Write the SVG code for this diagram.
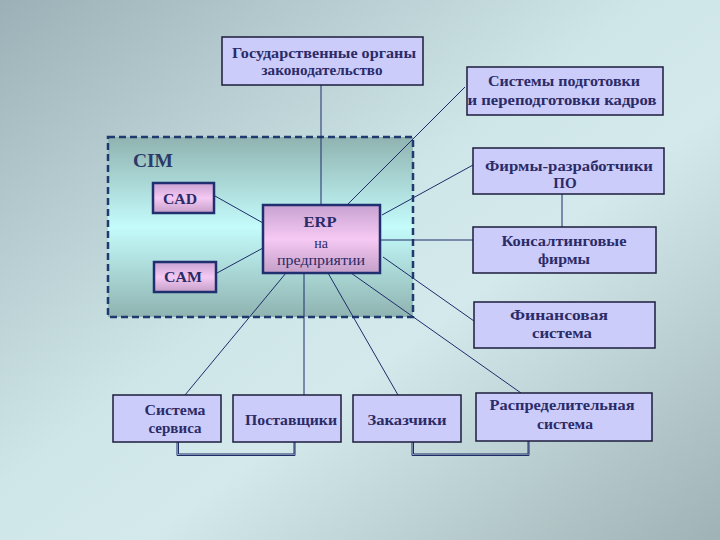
<svg xmlns="http://www.w3.org/2000/svg" width="720" height="540" viewBox="0 0 720 540">
<defs>
<linearGradient id="bg" x1="0" y1="0" x2="1" y2="1">
<stop offset="0" stop-color="#9cb1b7"/>
<stop offset="0.45" stop-color="#cfe6e8"/>
<stop offset="0.6" stop-color="#d3e9eb"/>
<stop offset="1" stop-color="#9fb2b5"/>
</linearGradient>
<linearGradient id="cim" x1="0" y1="0" x2="0" y2="1">
<stop offset="0" stop-color="#8fb3b0"/>
<stop offset="0.5" stop-color="#c4fbfb"/>
<stop offset="1" stop-color="#8fb3b0"/>
</linearGradient>
<linearGradient id="pink" x1="0" y1="0" x2="0" y2="1">
<stop offset="0" stop-color="#c8a2d2"/>
<stop offset="0.5" stop-color="#f5c9f3"/>
<stop offset="1" stop-color="#c49fc8"/>
</linearGradient>
<style>
.box{fill:#ccccfa;stroke:#1c1c3c;stroke-width:1.5}
.pbox{fill:url(#pink);stroke:#1f2f6f;stroke-width:2.5}
.t{font-family:"Liberation Serif","Times New Roman",serif;font-weight:bold;font-size:15px;fill:#2b2b68;text-anchor:middle}
.r{font-family:"Liberation Serif","Times New Roman",serif;font-size:14px;fill:#2b2b68;text-anchor:middle}
.c line,.c polyline{stroke:#1e2d6a;stroke-width:1;fill:none}
.br{stroke:#c0e4f2;stroke-width:2;fill:none}
</style>
</defs>
<rect x="0" y="0" width="720" height="540" fill="url(#bg)"/>

<g id="cim-area">
<rect x="108" y="137" width="305" height="180" fill="url(#cim)" stroke="#1f3a6e" stroke-width="2.5" stroke-dasharray="7,4"/>
<text x="133" y="167" font-family="'Liberation Serif','Times New Roman',serif" font-weight="bold" font-size="19" fill="#2b3a6a" textLength="40" lengthAdjust="spacingAndGlyphs">CIM</text>
</g>

<g class="c" id="connectors">
<line x1="321" y1="85" x2="321" y2="205"/>
<line x1="347" y1="205" x2="465" y2="87"/>
<line x1="382" y1="215" x2="473" y2="165"/>
<line x1="380" y1="240" x2="473" y2="240"/>
<line x1="562" y1="194" x2="562" y2="227"/>
<line x1="383" y1="257" x2="474" y2="321"/>
<line x1="351" y1="273" x2="521" y2="393"/>
<line x1="328" y1="273" x2="398" y2="395"/>
<line x1="304" y1="273" x2="304" y2="395"/>
<line x1="286" y1="273" x2="185" y2="395"/>
<line x1="215" y1="196" x2="263" y2="223"/>
<line x1="217" y1="273" x2="263" y2="248"/>
<polyline class="br" points="178.5,442 178.5,454 294,454 294,442"/>
<polyline points="177,442 177,455.5 295,455.5 295,442"/>
<polyline class="br" points="413.5,442 413.5,454 528,454 528,441"/>
<polyline points="412,442 412,455.5 529,455.5 529,441"/>
</g>

<g id="gov"><rect class="box" x="222" y="37" width="201" height="48"/>
<text class="t" x="324" y="58" textLength="184" lengthAdjust="spacingAndGlyphs">Государственные органы</text>
<text class="t" x="322" y="75" textLength="121" lengthAdjust="spacingAndGlyphs">законодательство</text></g>

<g id="training"><rect class="box" x="467" y="67" width="196" height="48"/>
<text class="t" x="564" y="86" textLength="152" lengthAdjust="spacingAndGlyphs">Системы подготовки</text>
<text class="t" x="562" y="105" textLength="189" lengthAdjust="spacingAndGlyphs">и переподготовки кадров</text></g>

<g id="devfirms"><rect class="box" x="473" y="148" width="191" height="46"/>
<text class="t" x="569" y="171" textLength="168" lengthAdjust="spacingAndGlyphs">Фирмы-разработчики</text>
<text class="t" x="565" y="188">ПО</text></g>

<g id="consult"><rect class="box" x="473" y="227" width="183" height="46"/>
<text class="t" x="564" y="246" textLength="125" lengthAdjust="spacingAndGlyphs">Консалтинговые</text>
<text class="t" x="564" y="264" textLength="52" lengthAdjust="spacingAndGlyphs">фирмы</text></g>

<g id="finance"><rect class="box" x="474" y="302" width="181" height="46"/>
<text class="t" x="559" y="320" textLength="98" lengthAdjust="spacingAndGlyphs">Финансовая</text>
<text class="t" x="562" y="338" textLength="60" lengthAdjust="spacingAndGlyphs">система</text></g>

<g id="service"><rect class="box" x="113" y="395" width="108" height="47"/>
<text class="t" x="175" y="415" textLength="61" lengthAdjust="spacingAndGlyphs">Система</text>
<text class="t" x="175" y="433" textLength="53" lengthAdjust="spacingAndGlyphs">сервиса</text></g>

<g id="suppliers"><rect class="box" x="233" y="395" width="108" height="47"/>
<text class="t" x="291" y="425" textLength="92" lengthAdjust="spacingAndGlyphs">Поставщики</text></g>

<g id="customers"><rect class="box" x="353" y="395" width="108" height="47"/>
<text class="t" x="407" y="425" textLength="79" lengthAdjust="spacingAndGlyphs">Заказчики</text></g>

<g id="distribution"><rect class="box" x="476" y="393" width="176" height="48"/>
<text class="t" x="562" y="410" textLength="145" lengthAdjust="spacingAndGlyphs">Распределительная</text>
<text class="t" x="565" y="429" textLength="56" lengthAdjust="spacingAndGlyphs">система</text></g>

<g id="cad"><rect class="pbox" x="153" y="183" width="61" height="30"/>
<text class="t" x="180" y="204" font-size="16" textLength="34" lengthAdjust="spacingAndGlyphs">CAD</text></g>

<g id="cam"><rect class="pbox" x="154" y="262" width="62" height="30"/>
<text class="t" x="183" y="282" font-size="16" textLength="38" lengthAdjust="spacingAndGlyphs">CAM</text></g>

<g id="erp"><rect class="pbox" x="263" y="205" width="117" height="68"/>
<text class="t" x="320" y="227" font-size="17" textLength="33" lengthAdjust="spacingAndGlyphs">ERP</text>
<text class="r" x="321" y="248">на</text>
<text class="r" x="321" y="265" textLength="88" lengthAdjust="spacingAndGlyphs">предприятии</text></g>
</svg>
